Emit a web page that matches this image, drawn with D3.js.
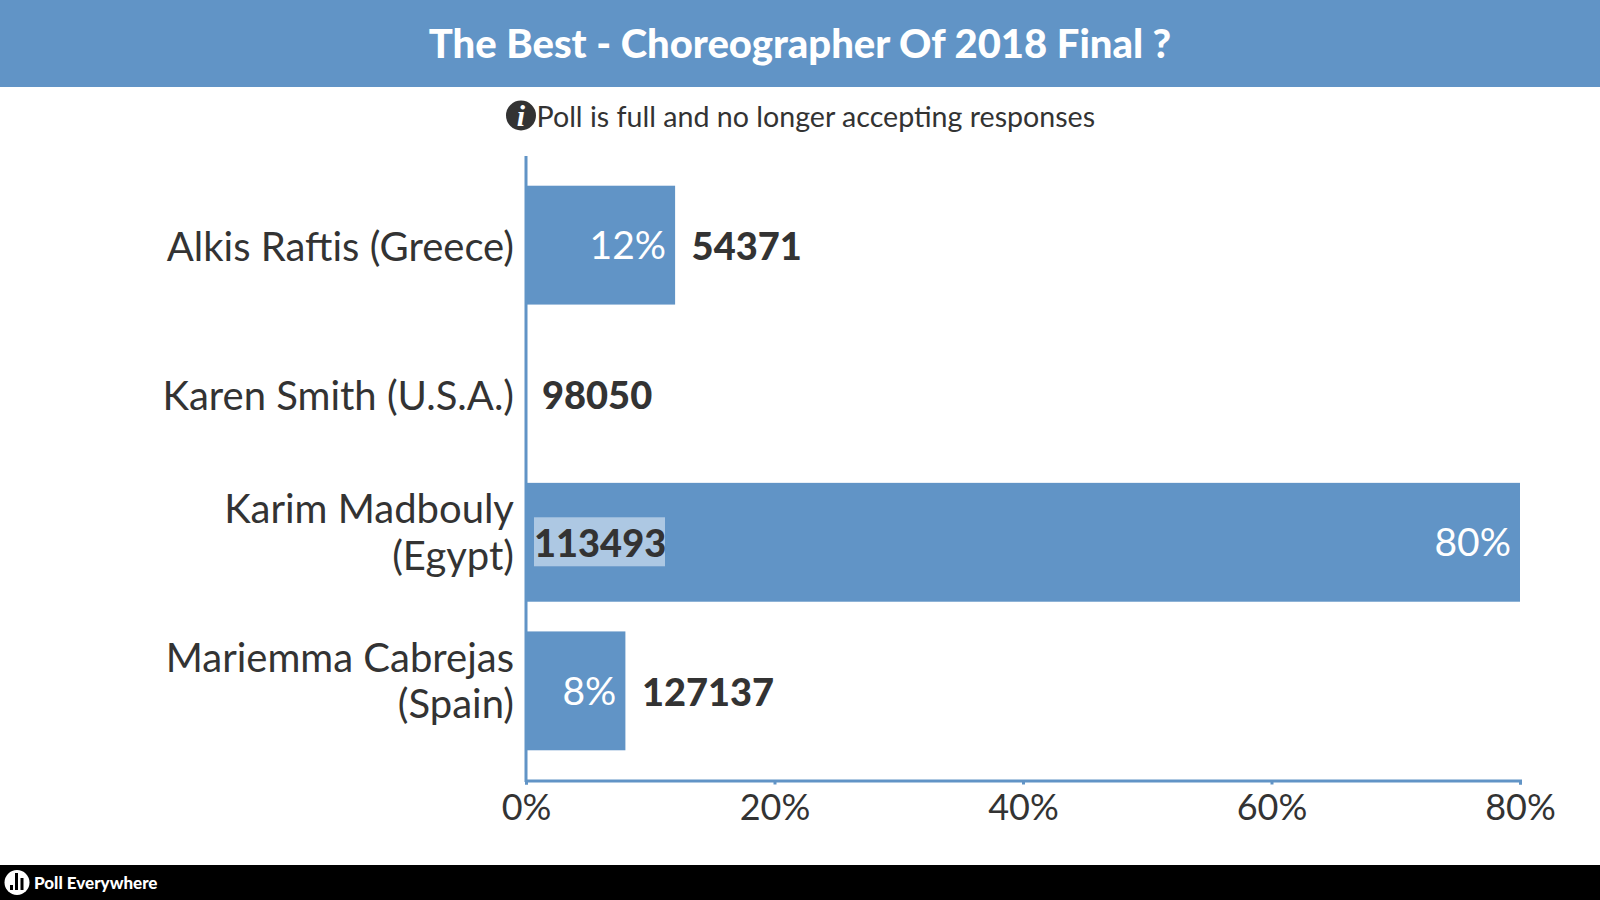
<!DOCTYPE html>
<html><head><meta charset="utf-8">
<script src="https://cdn.jsdelivr.net/npm/d3@7/dist/d3.min.js"></script>
<style>html,body{margin:0;padding:0;background:#fff}svg{display:block}text{font-family:Lato,"Noto Sans",sans-serif}</style>
</head><body><svg id="c" width="1600" height="900"></svg>
<script>
const titleText = "The Best - Choreographer Of 2018 Final ?";
const noticeText = "Poll is full and no longer accepting responses";
const brandText = "Poll Everywhere";
const categories = [["Alkis Raftis (Greece)"],["Karen Smith (U.S.A.)"],["Karim Madbouly","(Egypt)"],["Mariemma Cabrejas","(Spain)"]];
const percents = [12,0,80,8];
const counts = ["54371","98050","113493","127137"];
const tickValues = [0,20,40,60,80];
const blue="#6194c6", ink="#333333";
const svg=d3.select("#c");
const x=d3.scaleLinear().domain([0,80]).range([526,1520]);
const y=d3.scaleBand().domain(d3.range(4)).range([156,780]).paddingInner(0.2).paddingOuter(0.2);
svg.append("rect").attr("width",1600).attr("height",87).attr("fill",blue);
svg.append("text").attr("x",800).attr("y",58).attr("text-anchor","middle").attr("fill","#fff").attr("font-size",40).attr("font-weight",900).text(titleText);
// notice
svg.append("circle").attr("cx",521).attr("cy",115.5).attr("r",15).attr("fill",ink);
svg.append("text").attr("x",521).attr("y",126).attr("text-anchor","middle").attr("fill","#fff").attr("font-size",30).attr("font-weight",700).attr("font-style","italic").style("font-family","'Liberation Serif',serif").text("i");
svg.append("text").attr("x",536.5).attr("y",127).attr("fill",ink).attr("font-size",28.6).text(noticeText);
// bars
svg.selectAll("rect.bar").data(percents).join("rect").attr("class","bar")
 .attr("x",x(0)).attr("y",(d,i)=>y(i)).attr("width",d=>x(d)-x(0)).attr("height",y.bandwidth()).attr("fill",blue);
// axes
const ax=svg.append("g").attr("transform","translate(0,780.5)").call(d3.axisBottom(x).tickValues(tickValues).tickFormat(d=>d+"%").tickSize(4).tickPadding(10));
ax.selectAll("path,line").attr("stroke",blue).attr("stroke-width",3);
ax.selectAll("text").attr("fill",ink).attr("font-size",36).attr("dy","0.71em").style("font-family","Lato,sans-serif");
svg.append("line").attr("x1",x(0)).attr("x2",x(0)).attr("y1",156).attr("y2",782).attr("stroke",blue).attr("stroke-width",3);
// category labels
categories.forEach((lines,i)=>{
 const c=y(i)+y.bandwidth()/2;
 const shift=lines.length>1?-9:3;
 lines.forEach((t,k)=>{
  svg.append("text").attr("x",514).attr("y",c+13+shift+(k-(lines.length-1)/2)*46.5).attr("text-anchor","end").attr("fill",ink).attr("font-size",40).text(t);
 });
});
// percent labels + counts
percents.forEach((p,i)=>{
 const c=y(i)+y.bandwidth()/2;
 if(p>0) svg.append("text").attr("x",x(p)-9).attr("y",c+14).attr("text-anchor","end").attr("fill","#fff").attr("font-size",39).attr("font-weight",400).text(p+"%");
 const inside=p>50;
 const tx=inside?x(0)+8:x(p)+(p>0?16.5:16);
 if(inside){
  svg.append("rect").attr("x",x(0)+8).attr("y",c-25).attr("width",131).attr("height",49).attr("fill","#adc8e3");
 }
 svg.append("text").attr("x",tx).attr("y",c+15).attr("fill",ink).attr("font-size",38).attr("font-weight",900).text(counts[i]);
});
// footer
svg.append("rect").attr("y",865).attr("width",1600).attr("height",35).attr("fill","#000");
svg.append("circle").attr("cx",17).attr("cy",882.5).attr("r",12.5).attr("fill","#fff");
[[10,3,5],[15,3,17],[20.5,3,12]].forEach(b=>svg.append("rect").attr("x",b[0]).attr("y",890-b[2]).attr("width",b[1]).attr("height",b[2]).attr("fill","#000"));
svg.append("text").attr("x",34).attr("y",889).attr("fill","#fff").attr("font-size",17).attr("font-weight",900).text(brandText);
</script></body></html>
